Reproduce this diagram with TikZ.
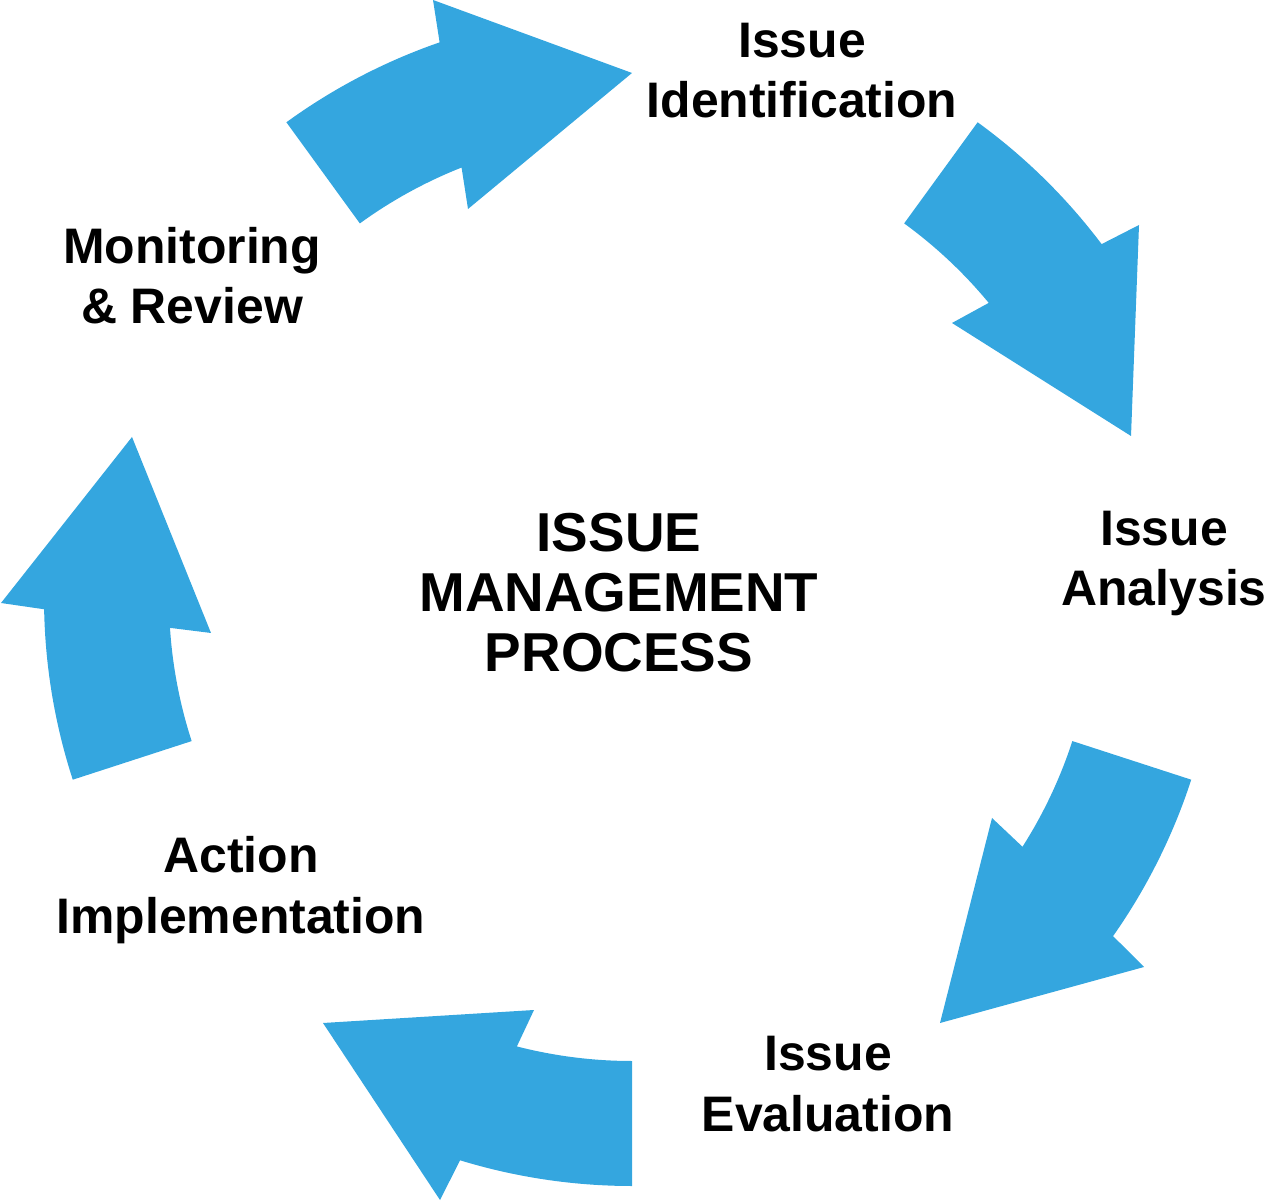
\documentclass[tikz,border=0pt]{standalone}
\usepackage{fontspec}
\setmainfont{Liberation Sans}
\begin{document}
\begin{tikzpicture}[
  arrowfill/.style={fill=cyclblue},
  lbl/.style={font=\bfseries\fontsize{14.2pt}{17.1pt}\selectfont, align=center, inner sep=0pt, anchor=base},
  ctr/.style={font=\bfseries\fontsize{15.6pt}{17.1pt}\selectfont, align=center, inner sep=0pt, anchor=base}
]
\definecolor{cyclblue}{HTML}{34A6DF}
\useasboundingbox (0,0) rectangle (12.68,12.01);
\coordinate (C) at (6.32,6.03);
\def\Ro{5.88}
\def\Ri{4.63}
% arrow 1: Monitoring -> Identification
\fill[arrowfill] ([shift={(126:\Ro)}]C) arc[start angle=126, end angle=109.1, radius=\Ro]
  -- (4.33,12.01) -- (6.32,11.28) -- (4.68,9.92)
  -- ([shift={(111.6:\Ri)}]C) arc[start angle=111.6, end angle=126, radius=\Ri] -- cycle;
% arrow 2: Identification -> Analysis
\fill[arrowfill] ([shift={(54:\Ro)}]C) arc[start angle=54, end angle=37.0, radius=\Ro]
  -- (11.39,9.76) -- (11.31,7.65) -- (9.52,8.78)
  -- ([shift={(39.6:\Ri)}]C) arc[start angle=39.6, end angle=54, radius=\Ri] -- cycle;
% arrow 3: Analysis -> Evaluation
\fill[arrowfill] ([shift={(-18:\Ro)}]C) arc[start angle=-18, end angle=-35.1, radius=\Ro]
  -- (11.44,2.34) -- (9.40,1.78) -- (9.92,3.83)
  -- ([shift={(-32.5:\Ri)}]C) arc[start angle=-32.5, end angle=-18, radius=\Ri] -- cycle;
% arrow 4: Evaluation -> Action
\fill[arrowfill] ([shift={(-90:\Ro)}]C) arc[start angle=-90, end angle=-107.0, radius=\Ro]
  -- (4.40,0.01) -- (3.23,1.78) -- (5.34,1.91)
  -- ([shift={(-104.4:\Ri)}]C) arc[start angle=-104.4, end angle=-90, radius=\Ri] -- cycle;
% arrow 5: Action -> Monitoring
\fill[arrowfill] ([shift={(198:\Ro)}]C) arc[start angle=198, end angle=181.1, radius=\Ro]
  -- (0.01,5.98) -- (1.32,7.64) -- (2.11,5.68)
  -- ([shift={(183.7:\Ri)}]C) arc[start angle=183.7, end angle=198, radius=\Ri] -- cycle;
% labels (base anchor = baseline of last line)
\node[lbl] (ident) at (8.02,10.83) {Issue\\Identification};
\node[lbl] (anal) at (11.64,5.95) {Issue\\Analysis};
\node[lbl] (eval) at (8.28,0.70) {Issue\\Evaluation};
\node[lbl] (act) at (2.41,2.68) {Action\\Implementation};
\node[lbl] (mon) at (1.92,8.77) {Monitoring\\\& Review};
\node[ctr] (title) at (6.19,5.29) {ISSUE\\MANAGEMENT\\PROCESS};
\end{tikzpicture}
\end{document}
